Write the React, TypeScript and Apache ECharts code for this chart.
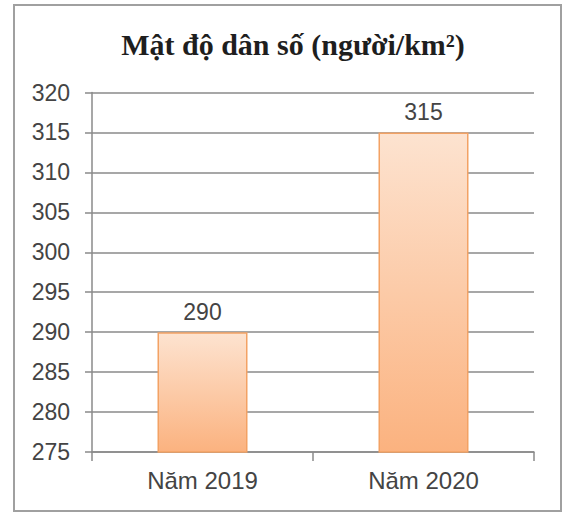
import React, { useEffect, useRef } from "react";
import * as echarts from "echarts";

const categories = ["Năm 2019", "Năm 2020"];
const densityValues = [290, 315];
const yMin = 275;
const yMax = 320;
const yStep = 5;
const titleText = "Mật độ dân số (người/km²)";

export default function App() {
  const ref = useRef<HTMLDivElement>(null);
  useEffect(() => {
    if (!ref.current) return;
    const chart = echarts.init(ref.current, undefined, { renderer: "svg" });
    const labelColor = "#444444";
    const lineColor = "#8a8a8a";
    chart.setOption({
      animation: false,
      backgroundColor: "#ffffff",
      title: {
        text: titleText,
        left: 288,
        textAlign: "center",
        top: 24,
        textStyle: {
          fontFamily: "Liberation Serif",
          fontWeight: "bold",
          fontSize: 30,
          color: "#1e1e1e",
        },
      },
      graphic: [
        {
          type: "rect",
          shape: { x: 14, y: 5, width: 547, height: 506 },
          style: { fill: "none", stroke: "#a0a0a0", lineWidth: 2 },
          z: -1,
        },
      ],
      grid: { left: 92, right: 29, top: 92.5, bottom: 62 },
      xAxis: {
        type: "category",
        data: categories,
        axisLine: { show: true, lineStyle: { color: lineColor, width: 1.5 } },
        axisTick: { show: true, length: 9, lineStyle: { color: lineColor, width: 1.5 } },
        axisLabel: {
          margin: 16,
          fontFamily: "Liberation Sans",
          fontSize: 24,
          color: labelColor,
        },
      },
      yAxis: {
        type: "value",
        min: yMin,
        max: yMax,
        interval: yStep,
        axisLine: { show: true, lineStyle: { color: lineColor, width: 1.5 } },
        axisTick: { show: true, length: 7, lineStyle: { color: lineColor, width: 1.5 } },
        splitLine: { show: true, lineStyle: { color: lineColor, width: 1.5 } },
        axisLabel: {
          margin: 22,
          fontFamily: "Liberation Sans",
          fontSize: 23,
          color: labelColor,
        },
      },
      series: [
        {
          type: "bar",
          data: densityValues,
          barWidth: 90,
          itemStyle: {
            color: new echarts.graphic.LinearGradient(0, 0, 0, 1, [
              { offset: 0, color: "#fde3d0" },
              { offset: 1, color: "#fbb27f" },
            ]),
            borderColor: "#f3a264",
            borderWidth: 1.5,
          },
          label: {
            show: true,
            position: "top",
            distance: 9,
            fontFamily: "Liberation Sans",
            fontSize: 23,
            color: labelColor,
          },
        },
      ],
    });
    return () => chart.dispose();
  }, []);
  return (
    <div
      ref={ref}
      style={{ position: "fixed", left: 0, top: 0, width: 563, height: 514, background: "#fff" }}
    />
  );
}
